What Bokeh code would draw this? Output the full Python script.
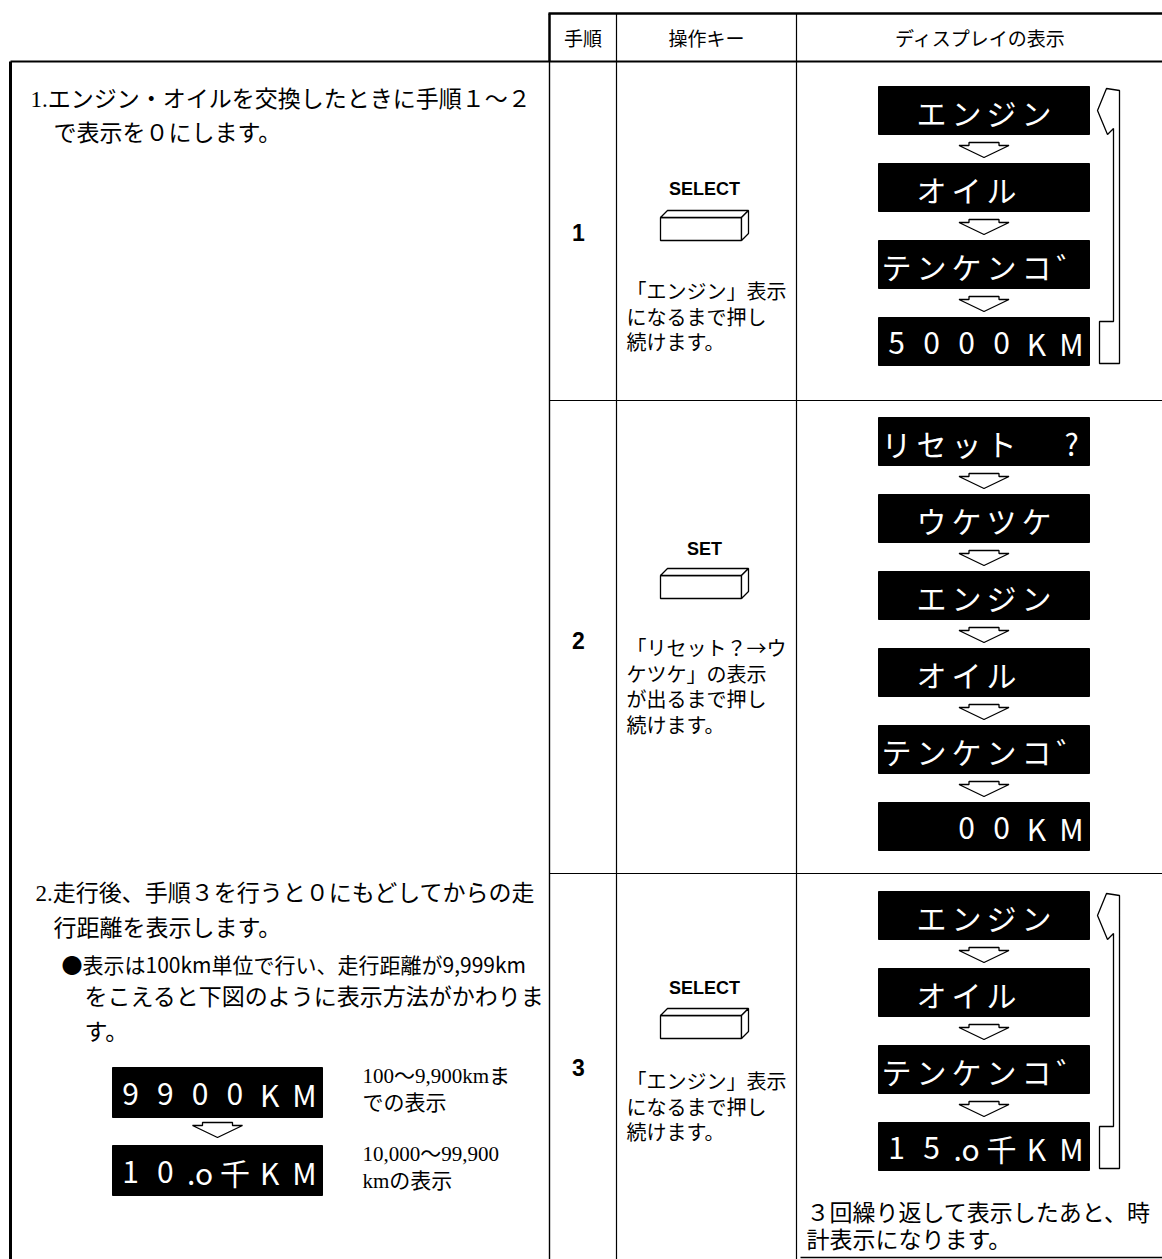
from bokeh.plotting import figure
from bokeh.models import Range1d
from bokeh.embed import file_html
from bokeh.resources import INLINE
from bokeh.core.properties import value

# ---------------- content ----------------
HEADERS = ["手順", "操作キー", "ディスプレイの表示"]
STEPS = ["1", "2", "3"]
KEYS = ["SELECT", "SET", "SELECT"]
KEY_NOTES = [
    ["「エンジン」表示", "になるまで押し", "続けます。"],
    ["「リセット？→ウ", "ケツケ」の表示", "が出るまで押し", "続けます。"],
    ["「エンジン」表示", "になるまで押し", "続けます。"],
]
DISPLAYS = [
    [["", "エ", "ン", "ジ", "ン", ""],
     ["", "オ", "イ", "ル", "", ""],
     ["テ", "ン", "ケ", "ン", "コ", "゛"],
     ["5", "0", "0", "0", "K", "M"]],
    [["リ", "セ", "ッ", "ト", "", "?"],
     ["", "ウ", "ケ", "ツ", "ケ", ""],
     ["", "エ", "ン", "ジ", "ン", ""],
     ["", "オ", "イ", "ル", "", ""],
     ["テ", "ン", "ケ", "ン", "コ", "゛"],
     ["", "", "0", "0", "K", "M"]],
    [["", "エ", "ン", "ジ", "ン", ""],
     ["", "オ", "イ", "ル", "", ""],
     ["テ", "ン", "ケ", "ン", "コ", "゛"],
     ["1", "5", ".o", "千", "K", "M"]],
]
LOOPS = [True, False, True]
NOTE1 = ["1.エンジン・オイルを交換したときに手順１～２", "で表示を０にします。"]
NOTE2 = ["2.走行後、手順３を行うと０にもどしてからの走", "行距離を表示します。"]
BULLET = ["●表示は100km単位で行い、走行距離が9,999km",
          "をこえると下図のように表示方法がかわりま", "す。"]
EXAMPLES = [["9", "9", "0", "0", "K", "M"], ["1", "0", ".o", "千", "K", "M"]]
EXAMPLE_LABELS = [["100～9,900kmま", "での表示"], ["10,000～99,900", "kmの表示"]]
FOOTNOTE = ["３回繰り返して表示したあと、時", "計表示になります。"]

# ---------------- layout ----------------
W, H = 1162, 1259
JP = value("Noto Sans CJK JP")
MIX = value("Liberation Serif, Noto Sans CJK JP")
SANS = value("Liberation Sans")

p = figure(width=W, height=H, x_range=Range1d(0, W), y_range=Range1d(H, 0),
           output_backend="svg", toolbar_location=None, x_axis_type=None, y_axis_type=None,
           min_border=0)
p.outline_line_color = None
p.grid.visible = False
p.background_fill_color = "white"
p.border_fill_color = "white"

COLS = [549, 616, 796, 1170]
ROW_TOP = [61, 400, 873]
HEAD_TOP = 13
BOTTOM = 1262


def txt(xs, ys, texts, size, font=JP, align="left", color="black", style="normal"):
    p.text(x=xs, y=ys, text=texts, text_font=font, text_font_size=f"{size}px",
           text_align=align, text_baseline="middle", text_color=color, text_font_style=style)


# table frame
p.segment(x0=[COLS[0] - 1], y0=[HEAD_TOP], x1=[COLS[3]], y1=[HEAD_TOP], line_width=2.5, line_color="black")
p.segment(x0=[COLS[0]], y0=[HEAD_TOP], x1=[COLS[0]], y1=[ROW_TOP[0]], line_width=2.5, line_color="black")
p.segment(x0=[10], y0=[ROW_TOP[0]], x1=[COLS[3]], y1=[ROW_TOP[0]], line_width=2.2, line_color="black")
p.segment(x0=[10], y0=[ROW_TOP[0]], x1=[10], y1=[BOTTOM], line_width=3, line_color="black")
p.segment(x0=[COLS[0]], y0=[ROW_TOP[0]], x1=[COLS[0]], y1=[BOTTOM], line_width=1.4, line_color="black")
p.segment(x0=[COLS[1], COLS[2]], y0=[HEAD_TOP, HEAD_TOP], x1=[COLS[1], COLS[2]], y1=[BOTTOM, BOTTOM],
          line_width=1.2, line_color="black")
p.segment(x0=[COLS[0]] * 2, y0=ROW_TOP[1:], x1=[COLS[3]] * 2, y1=ROW_TOP[1:], line_width=1.2, line_color="black")
p.segment(x0=[800], y0=[1257], x1=[COLS[3]], y1=[1257], line_width=1.5, line_color="black")

# header
head_x = [(COLS[i] + COLS[i + 1]) / 2 for i in range(2)] + [980]
txt(head_x, [37] * 3, HEADERS, 19, align="center")

# left notes
txt([30, 53], [99, 133], NOTE1, 23, font=MIX)
txt([35, 53], [893, 928], NOTE2, 23, font=MIX)
txt([61], [963], BULLET[:1], 21, font=JP)
txt([84, 84], [997, 1032], BULLET[1:], 23, font=MIX)

# per-row layout
KEY_LABEL_Y = [188, 548, 987]
KEY_TOP = [210, 568, 1008]
STEP_Y = [232, 640, 1067]
NOTE_Y = [290, 647, 1080]
DISP_TOP = [86, 417, 891]
PITCH, BOX_H = 77, 48
BX0, BX1 = 878, 1089


def key_icon(cx, top, w=88, h=30, d=7):
    x0, x1 = cx - w / 2, cx + w / 2 - d
    xs = [[x0, x1, x1, x0], [x0, x0 + d, x1 + d, x1], [x1, x1 + d, x1 + d, x1]]
    ys = [[top + d, top + d, top + h, top + h], [top + d, top, top, top + d],
          [top + d, top, top + h - d, top + h]]
    p.patches(xs=xs, ys=ys, fill_color="white", line_color="black", line_width=1.3)


def down_arrow(cx, top):
    xs = [cx - 15, cx + 15, cx + 15, cx + 25, cx, cx - 25, cx - 15]
    ys = [top, top, top + 3, top + 3, top + 15, top + 3, top + 3]
    p.patch(x=xs, y=ys, fill_color="white", line_color="black", line_width=1.3)


def lcd(x0, x1, top, cells, h=BOX_H, size=30):
    p.quad(left=[x0], right=[x1], top=[top], bottom=[top + h], fill_color="black", line_color="black")
    n = len(cells)
    step = (x1 - x0 - 36) / (n - 1)
    xs = [x0 + 18 + i * step for i in range(n)]
    txt(xs, [top + h / 2 + 1] * n, cells, size, align="center", color="white")


def loop_arrow(bx, y0, lt, lb):
    xs = [bx + 8, bx + 17, bx + 30, bx + 30, bx + 10, bx + 10, bx + 24, bx + 24, bx + 18]
    ys = [y0 + 24, y0 + 2, y0 + 4, lb - 2, lb - 2, lt + 4, lt + 4, y0 + 42, y0 + 48]
    p.patch(x=xs, y=ys, fill_color="white", line_color="black", line_width=1.3)


key_cx = (COLS[1] + COLS[2]) / 2 - 2
disp_cx = (BX0 + BX1) / 2
for r in range(3):
    txt([578], [STEP_Y[r]], [STEPS[r]], 23, font=SANS, align="center", style="bold")
    txt([key_cx], [KEY_LABEL_Y[r]], [KEYS[r]], 18, font=SANS, align="center", style="bold")
    key_icon(key_cx, KEY_TOP[r])
    notes = KEY_NOTES[r]
    txt([626] * len(notes), [NOTE_Y[r] + 25.5 * i for i in range(len(notes))], notes, 20)
    disp = DISPLAYS[r]
    for i, cells in enumerate(disp):
        top = DISP_TOP[r] + i * PITCH
        lcd(BX0, BX1, top, cells)
        if i < len(disp) - 1:
            down_arrow(disp_cx, top + BOX_H + 8)
    if LOOPS[r]:
        last = DISP_TOP[r] + (len(disp) - 1) * PITCH
        loop_arrow(BX1, DISP_TOP[r], last, last + BOX_H)

# example displays in the left panel
EX_TOP = [1067, 1145]
EX_X0, EX_X1 = 112, 322
for i, cells in enumerate(EXAMPLES):
    lcd(EX_X0, EX_X1, EX_TOP[i], cells, h=50)
down_arrow((EX_X0 + EX_X1) / 2, EX_TOP[0] + 50 + 5)
for i, lab in enumerate(EXAMPLE_LABELS):
    txt([362, 362], [EX_TOP[i] + 8, EX_TOP[i] + 35], lab, 21, font=MIX)

txt([806, 806], [1210, 1237], FOOTNOTE, 23)

open("out.html", "w").write(file_html(p, INLINE))
